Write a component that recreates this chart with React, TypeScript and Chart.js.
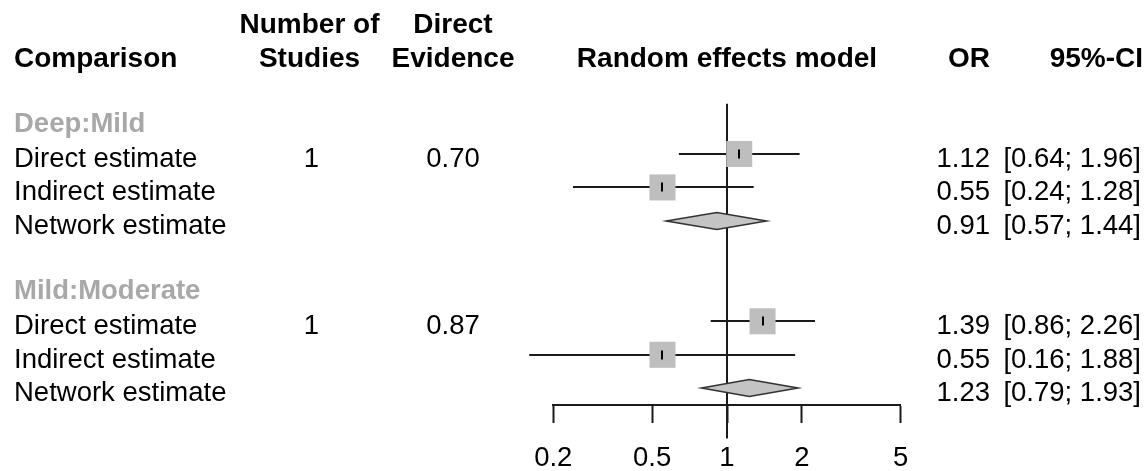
import React, { useEffect, useRef } from "react";
import { Chart, registerables } from "chart.js";

Chart.register(...registerables);

// ---------- data ----------
const groupNames = ["Deep:Mild", "Mild:Moderate"];
const estimateTypes = ["Direct estimate", "Indirect estimate", "Network estimate"];
const numberOfStudies = [1, 1];
const directEvidence = [0.7, 0.87];
const oddsRatio = [1.12, 0.55, 0.91, 1.39, 0.55, 1.23];
const ciLower = [0.64, 0.24, 0.57, 0.86, 0.16, 0.79];
const ciUpper = [1.96, 1.28, 1.44, 2.26, 1.88, 1.93];
const xTickValues = [0.2, 0.5, 1, 2, 5];
const xTickLabels = ["0.2", "0.5", "1", "2", "5"];

// ---------- styles ----------
const FONT = '"Liberation Sans", Arial, Helvetica, sans-serif';
const FS = 27.5;
const FSB = 28;
const LINE = "#1a1a1a";
const SQUARE = "#bebebe";
const DIAMOND = "#c4c4c4";
const HEADING = "#a8a8a8";

const rowOf = (i: number) => Math.floor(i / 3) * 5 + (i % 3);

const forestPlugin = {
  id: "forest",
  beforeDatasetsDraw(chart: any) {
    const { ctx, scales } = chart;
    const x = scales.x;
    const y = scales.y;
    ctx.save();
    ctx.strokeStyle = LINE;
    ctx.lineWidth = 2;
    const x1 = Math.round(x.getPixelForValue(1));
    ctx.beginPath();
    ctx.moveTo(x1, y.getPixelForValue(-1.5));
    ctx.lineTo(x1, y.getPixelForValue(8.5));
    ctx.stroke();
    ctx.lineWidth = 1.8;
    oddsRatio.forEach((_, i) => {
      if (i % 3 === 2) return;
      const yy = Math.round(y.getPixelForValue(rowOf(i)));
      ctx.beginPath();
      ctx.moveTo(x.getPixelForValue(ciLower[i]), yy);
      ctx.lineTo(x.getPixelForValue(ciUpper[i]), yy);
      ctx.stroke();
    });
    ctx.restore();
  },
  afterDatasetsDraw(chart: any) {
    const { ctx, scales } = chart;
    const x = scales.x;
    const y = scales.y;
    ctx.save();
    oddsRatio.forEach((v, i) => {
      const yy = Math.round(y.getPixelForValue(rowOf(i)));
      const xe = x.getPixelForValue(v);
      if (i % 3 === 2) {
        const h = 8.5;
        ctx.beginPath();
        ctx.moveTo(x.getPixelForValue(ciLower[i]), yy);
        ctx.lineTo(xe, yy - h);
        ctx.lineTo(x.getPixelForValue(ciUpper[i]), yy);
        ctx.lineTo(xe, yy + h);
        ctx.closePath();
        ctx.fillStyle = DIAMOND;
        ctx.fill();
        ctx.strokeStyle = "#333";
        ctx.lineWidth = 1.6;
        ctx.stroke();
      } else {
        ctx.strokeStyle = "#000";
        ctx.lineWidth = 2;
        ctx.beginPath();
        ctx.moveTo(Math.round(xe), yy - 4.5);
        ctx.lineTo(Math.round(xe), yy + 4.5);
        ctx.stroke();
      }
    });
    ctx.restore();
  },
  afterDraw(chart: any) {
    const { ctx, scales } = chart;
    const x = scales.x;
    const y = scales.y;
    ctx.save();
    ctx.textBaseline = "alphabetic";
    ctx.fillStyle = "#000";
    ctx.font = `bold ${FSB}px ${FONT}`;
    ctx.textAlign = "left";
    ctx.fillText("Comparison", 14, 67);
    ctx.textAlign = "center";
    ctx.fillText("Number of", 309.5, 33);
    ctx.fillText("Studies", 309.5, 67);
    ctx.fillText("Direct", 453, 33);
    ctx.fillText("Evidence", 453, 67);
    ctx.fillText("Random effects model", (x.left + x.right) / 2, 67);
    ctx.textAlign = "right";
    ctx.fillText("OR", 990, 67);
    ctx.fillText("95%-CI", 1143, 67);

    groupNames.forEach((g, gi) => {
      ctx.font = `bold ${FS}px ${FONT}`;
      ctx.fillStyle = HEADING;
      ctx.textAlign = "left";
      ctx.fillText(g, 14, y.getPixelForValue(gi * 5 - 1) + 11.5);
      ctx.font = `${FS}px ${FONT}`;
      ctx.fillStyle = "#000";
      estimateTypes.forEach((lab, j) => {
        const i = gi * 3 + j;
        const base = y.getPixelForValue(rowOf(i)) + 13;
        ctx.textAlign = "left";
        ctx.fillText(lab, 14, base);
        if (j === 0) {
          ctx.textAlign = "center";
          ctx.fillText(String(numberOfStudies[gi]), 311.5, base);
          ctx.fillText(directEvidence[gi].toFixed(2), 453, base);
        }
        ctx.textAlign = "right";
        ctx.fillText(oddsRatio[i].toFixed(2), 990, base);
        ctx.fillText(`[${ciLower[i].toFixed(2)}; ${ciUpper[i].toFixed(2)}]`, 1141, base);
      });
    });
    ctx.restore();
  },
};

export default function App() {
  const ref = useRef<HTMLCanvasElement | null>(null);
  useEffect(() => {
    if (!ref.current) return;
    const points = oddsRatio
      .map((v, i) => ({ x: v, y: rowOf(i), i }))
      .filter((p) => p.i % 3 !== 2)
      .map((p) => ({ x: p.x, y: p.y }));
    const chart = new Chart(ref.current, {
      type: "scatter",
      data: {
        datasets: [
          {
            data: points,
            pointStyle: "rect",
            pointRadius: 18.4,
            pointHoverRadius: 18.4,
            backgroundColor: SQUARE,
            borderWidth: 0,
            pointBorderWidth: 0,
            clip: false,
          } as any,
        ],
      },
      options: {
        animation: false,
        responsive: false,
        events: [],
        layout: { autoPadding: false, padding: { left: 553.3, right: 247.3, top: 0, bottom: 0 } },
        plugins: { legend: { display: false }, tooltip: { enabled: false } },
        scales: {
          x: {
            type: "logarithmic",
            min: 0.2,
            max: 5,
            afterBuildTicks: (s: any) => {
              s.ticks = xTickValues.map((v) => ({ value: v }));
            },
            afterFit: (s: any) => {
              s.height = 66;
            },
            ticks: {
              autoSkip: false,
              maxRotation: 0,
              minRotation: 0,
              padding: 19,
              color: "#000",
              font: { family: FONT, size: FS },
              callback: (v: any) => {
                const k = xTickValues.indexOf(Number(v));
                return k >= 0 ? xTickLabels[k] : "";
              },
            },
            grid: {
              drawOnChartArea: false,
              drawTicks: true,
              tickLength: 18,
              tickWidth: 2,
              tickColor: LINE,
              color: LINE,
            },
            border: { display: true, color: LINE, width: 2 },
          },
          y: { type: "linear", display: false, min: -4.6, max: 7.5, reverse: true },
        },
      } as any,
      plugins: [forestPlugin],
    });
    return () => chart.destroy();
  }, []);
  return (
    <div style={{ position: "fixed", left: 0, top: 0, width: 1148, height: 471, background: "#fff" }}>
      <canvas ref={ref} width={1148} height={471} style={{ display: "block" }} />
    </div>
  );
}
